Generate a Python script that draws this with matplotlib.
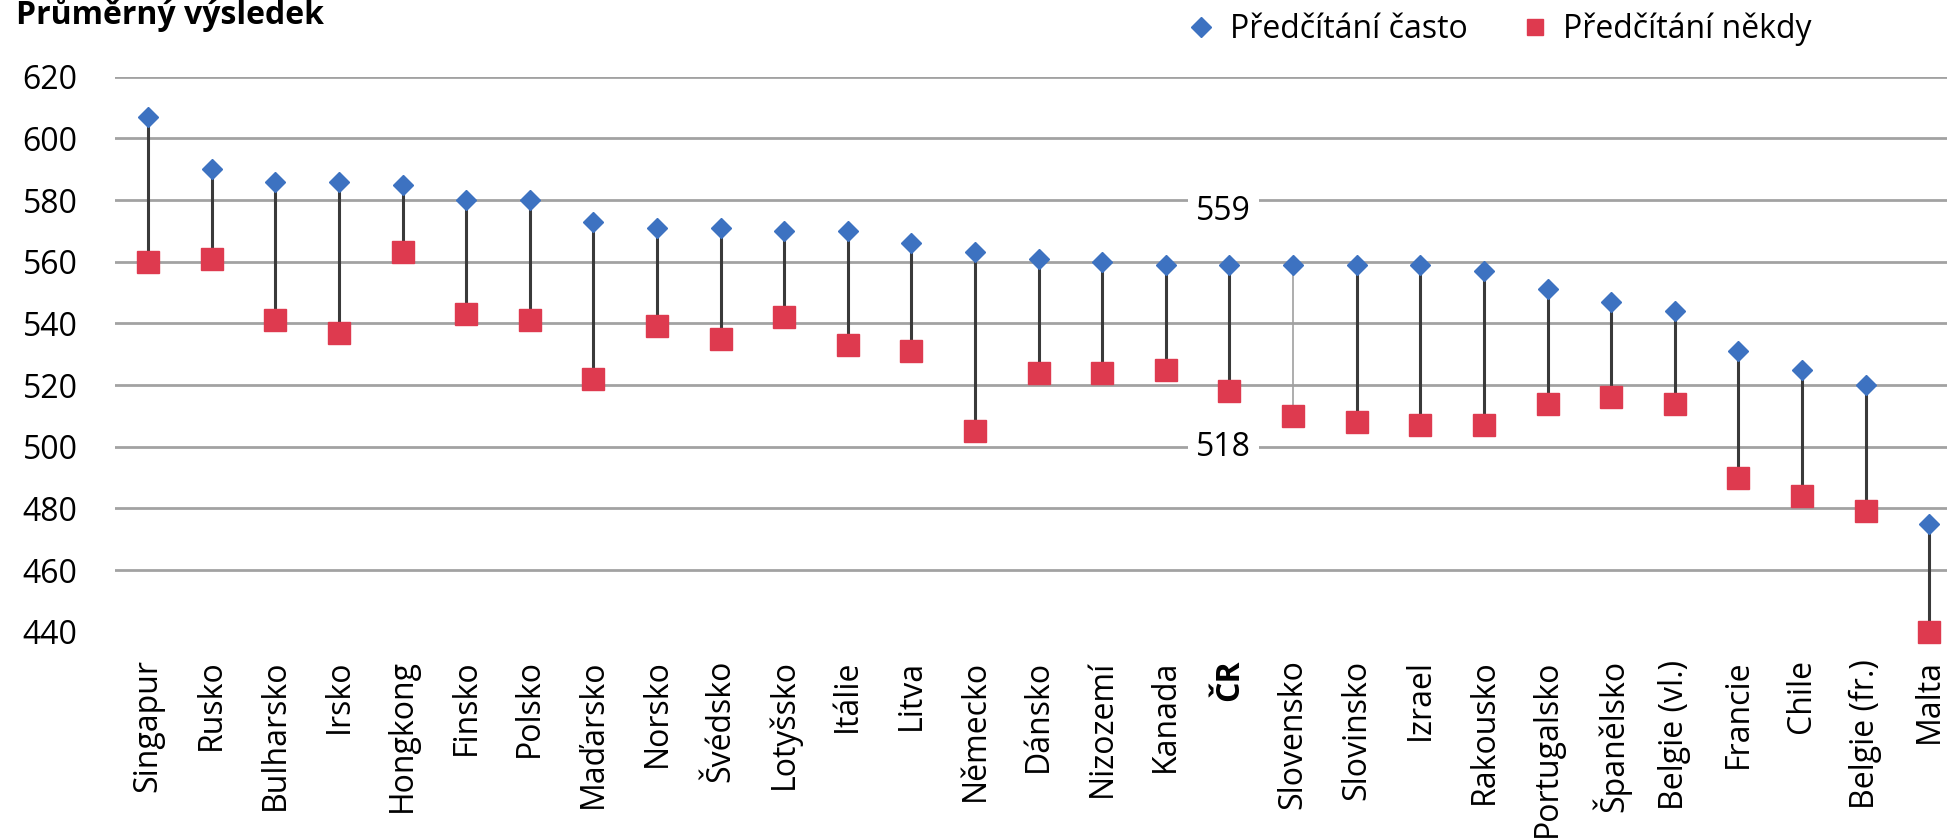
import matplotlib
matplotlib.use('Agg')
import matplotlib.pyplot as plt
from matplotlib.lines import Line2D

plt.rcParams['font.family'] = ['Open Sans', 'DejaVu Sans']

countries = ['Singapur', 'Rusko', 'Bulharsko', 'Irsko', 'Hongkong', 'Finsko', 'Polsko',
             'Maďarsko', 'Norsko', 'Švédsko', 'Lotyšsko', 'Itálie', 'Litva', 'Německo',
             'Dánsko', 'Nizozemí', 'Kanada', 'ČR', 'Slovensko', 'Slovinsko', 'Izrael',
             'Rakousko', 'Portugalsko', 'Španělsko', 'Belgie (vl.)', 'Francie', 'Chile',
             'Belgie (fr.)', 'Malta']
often = [607, 590, 586, 586, 585, 580, 580, 573, 571, 571, 570, 570, 566, 563,
         561, 560, 559, 559, 559, 559, 559, 557, 551, 547, 544, 531, 525, 520, 475]
sometimes = [560, 561, 541, 537, 563, 543, 541, 522, 539, 535, 542, 533, 531, 505,
             524, 524, 525, 518, 510, 508, 507, 507, 514, 516, 514, 490, 484, 479, 440]
yticks = [440, 460, 480, 500, 520, 540, 560, 580, 600, 620]
label_often = 'Předčítání často'
label_sometimes = 'Předčítání někdy'
highlight = 'ČR'

blue = '#3d72c1'
red = '#de3a4f'
fs = 23

W, H = 1947, 840
fig = plt.figure(figsize=(W / 100, H / 100), dpi=100)
ax = fig.add_axes([115 / W, 1 - 631.7 / H, 1 - 115 / W, (631.7 - 76.7) / H])

x = list(range(len(countries)))
line_cols = ['#a0a0a0' if c == 'Slovensko' else '#3a3a3a' for c in countries]
line_w = [1.2 if c == 'Slovensko' else 2.2 for c in countries]
ax.vlines(x, sometimes, often, colors=line_cols, linewidths=line_w, zorder=2)
ax.plot(x, often, 'D', ms=10, color=blue, ls='none', clip_on=False, zorder=3)
ax.plot(x, sometimes, 's', ms=15.5, color=red, ls='none', clip_on=False, zorder=3)

ax.set_xlim(-0.52, 28.28)
ax.set_ylim(440, 620)
ax.set_yticks(yticks)
ax.set_xticks(x)
ax.set_xticklabels(countries, rotation=90, fontsize=fs)
ax.tick_params(axis='y', length=0, pad=27, labelsize=fs)
ax.tick_params(axis='x', length=0, pad=20)
for t in ax.get_xticklabels():
    if t.get_text() == highlight:
        t.set_fontweight('bold')
for s in ax.spines.values():
    s.set_visible(False)
ax.yaxis.grid(True, color='#a2a2a2', lw=2)
ax.set_axisbelow(True)
ax.yaxis.get_gridlines()[0].set_visible(False)

# data labels for ČR
i = countries.index(highlight)
box = dict(fc='white', ec='none', pad=6)
ax.annotate(str(often[i]), (i, often[i]), xytext=(-6, 53), textcoords='offset pixels',
            ha='center', va='center', fontsize=fs, bbox=box, zorder=4)
ax.annotate(str(sometimes[i]), (i, sometimes[i]), xytext=(-6, -56), textcoords='offset pixels',
            ha='center', va='center', fontsize=fs, bbox=box, zorder=4)

fig.text(16 / W, 1 - 24 / H, 'Průměrný výsledek', fontweight='bold', fontsize=fs, va='baseline')

handles = [Line2D([], [], marker='D', ms=10, color=blue, ls='none'),
           Line2D([], [], marker='s', ms=12, color=red, ls='none')]
fig.legend(handles, [label_often, label_sometimes], loc='center left',
           bbox_to_anchor=(1185 / W, 1 - 29 / H), ncol=2, frameon=False, fontsize=fs,
           handlelength=1, handletextpad=0.4, columnspacing=1.6, borderpad=0, borderaxespad=0)

fig.savefig('out.png', dpi=100)
